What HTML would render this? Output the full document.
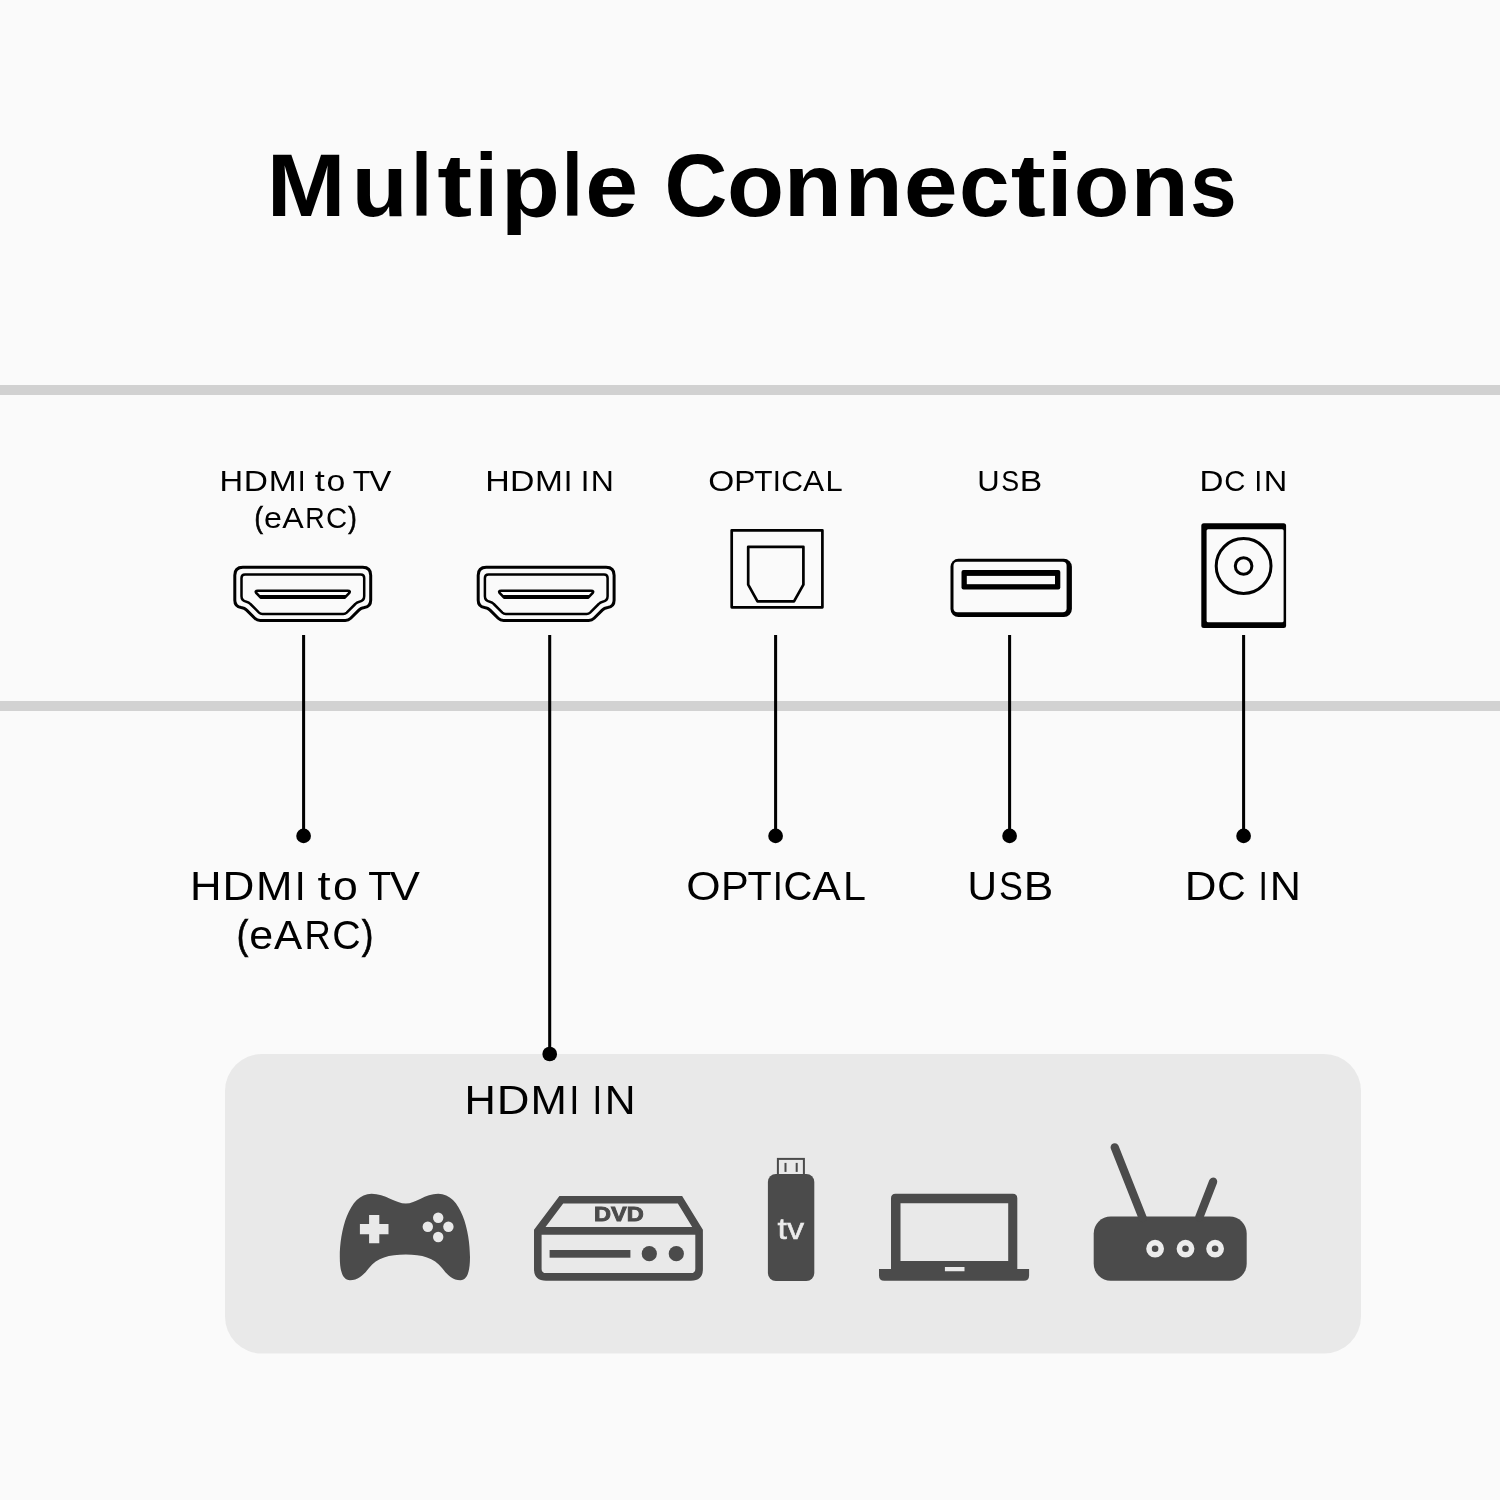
<!DOCTYPE html>
<html><head><meta charset="utf-8">
<style>
html,body{margin:0;padding:0;background:#fafafa;}
body{width:1500px;height:1500px;overflow:hidden;font-family:"Liberation Sans",sans-serif;}
svg{display:block;position:absolute;left:0;top:0;will-change:transform;}
text{font-family:"Liberation Sans",sans-serif;fill:#000;}
</style></head>
<body>
<svg width="1500" height="1500" viewBox="0 0 1500 1500">
<rect x="0" y="0" width="1500" height="1500" fill="#fafafa"/>
<!-- horizontal bars -->
<rect x="0" y="385" width="1500" height="10" fill="#d1d1d1"/>
<rect x="0" y="701" width="1500" height="10" fill="#d2d2d2"/>
<!-- panel -->
<rect x="225" y="1054" width="1136" height="299.500" rx="37" ry="37" fill="#e9e9e9"/>

<!-- title -->
<g font-size="88.6" font-weight="bold">
<text transform="translate(266.79,216) scale(1.0678,1)">M</text>
<text transform="translate(351.72,216) scale(1.0316,1)">u</text>
<text transform="translate(411.48,216) scale(0.8163,1)">l</text>
<text transform="translate(437.30,216) scale(1.1833,1)">t</text>
<text transform="translate(474.92,216) scale(0.9174,1)">i</text>
<text transform="translate(500.64,216) scale(1.0945,1)">p</text>
<text transform="translate(562.06,216) scale(0.8379,1)">l</text>
<text transform="translate(585.33,216) scale(1.0722,1)">e</text>
<text transform="translate(664.48,216) scale(0.9827,1)">C</text>
<text transform="translate(727.08,216) scale(1.0546,1)">o</text>
<text transform="translate(783.85,216) scale(1.0745,1)">n</text>
<text transform="translate(844.44,216) scale(1.0767,1)">n</text>
<text transform="translate(903.77,216) scale(1.0948,1)">e</text>
<text transform="translate(958.96,216) scale(1.0271,1)">c</text>
<text transform="translate(1010.70,216) scale(1.1936,1)">t</text>
<text transform="translate(1047.08,216) scale(1.0330,1)">i</text>
<text transform="translate(1073.75,216) scale(1.0278,1)">o</text>
<text transform="translate(1130.44,216) scale(1.0767,1)">n</text>
<text transform="translate(1190.07,216) scale(0.9484,1)">s</text>
</g>
<!-- labels (per-glyph) -->
<g font-size="29.5">
<text transform="translate(219.44,490.7) scale(1.1089,1)">H</text>
<text transform="translate(243.68,490.7) scale(1.1348,1)">D</text>
<text transform="translate(268.69,490.7) scale(1.1341,1)">M</text>
<text transform="translate(297.79,490.7) scale(0.9608,1)">I</text>
<text transform="translate(314.70,490.7) scale(1.2294,1)">t</text>
<text transform="translate(326.54,490.7) scale(1.1477,1)">o</text>
<text transform="translate(352.85,490.7) scale(0.9792,1)">T</text>
<text transform="translate(369.30,490.7) scale(1.1251,1)">V</text>
</g>
<g font-size="29.5">
<text transform="translate(254.44,527.6) scale(0.8600,1)" stroke="#000" stroke-width="0.7">(</text>
<text transform="translate(263.99,527.6) scale(1.0917,1)">e</text>
<text transform="translate(282.20,527.6) scale(1.0898,1)">A</text>
<text transform="translate(305.30,527.6) scale(0.9123,1)">R</text>
<text transform="translate(326.02,527.6) scale(0.9948,1)">C</text>
<text transform="translate(348.13,527.6) scale(0.8600,1)" stroke="#000" stroke-width="0.7">)</text>
</g>
<g font-size="29.5">
<text transform="translate(485.35,490.7) scale(1.1510,1)">H</text>
<text transform="translate(510.06,490.7) scale(1.1459,1)">D</text>
<text transform="translate(535.09,490.7) scale(1.1341,1)">M</text>
<text transform="translate(563.87,490.7) scale(1.0538,1)">I</text>
<text transform="translate(580.87,490.7) scale(1.0538,1)">I</text>
<text transform="translate(590.80,490.7) scale(1.0847,1)">N</text>
</g>
<g font-size="29.5">
<text transform="translate(708.13,490.7) scale(1.1341,1)">O</text>
<text transform="translate(734.23,490.7) scale(1.0723,1)">P</text>
<text transform="translate(754.23,490.7) scale(1.0144,1)">T</text>
<text transform="translate(772.81,490.7) scale(0.9918,1)">I</text>
<text transform="translate(781.29,490.7) scale(1.0212,1)">C</text>
<text transform="translate(803.10,490.7) scale(1.0747,1)">A</text>
<text transform="translate(825.59,490.7) scale(1.0473,1)">L</text>
</g>
<g font-size="29.5">
<text transform="translate(977.36,490.7) scale(1.0505,1)">U</text>
<text transform="translate(1001.26,490.7) scale(0.9078,1)">S</text>
<text transform="translate(1019.67,490.7) scale(1.1405,1)">B</text>
</g>
<g font-size="29.5">
<text transform="translate(1199.51,490.7) scale(1.1237,1)">D</text>
<text transform="translate(1224.22,490.7) scale(0.9948,1)">C</text>
<text transform="translate(1254.56,490.7) scale(0.9298,1)">I</text>
<text transform="translate(1263.76,490.7) scale(1.1028,1)">N</text>
</g>
<g font-size="40.4">
<text transform="translate(190.08,899.8) scale(1.0825,1)">H</text>
<text transform="translate(222.45,899.8) scale(1.0927,1)">D</text>
<text transform="translate(255.98,899.8) scale(1.0837,1)">M</text>
<text transform="translate(294.83,899.8) scale(0.9731,1)">I</text>
<text transform="translate(317.50,899.8) scale(1.1705,1)">t</text>
<text transform="translate(332.91,899.8) scale(1.1038,1)">o</text>
<text transform="translate(368.31,899.8) scale(0.9291,1)">T</text>
<text transform="translate(389.70,899.8) scale(1.1200,1)">V</text>
</g>
<g font-size="40.4">
<text transform="translate(236.74,948.8) scale(0.8600,1)" stroke="#000" stroke-width="0.7">(</text>
<text transform="translate(249.26,948.8) scale(1.0629,1)">e</text>
<text transform="translate(273.90,948.8) scale(1.0463,1)">A</text>
<text transform="translate(304.45,948.8) scale(0.9018,1)">R</text>
<text transform="translate(332.16,948.8) scale(0.9737,1)">C</text>
<text transform="translate(361.86,948.8) scale(0.8600,1)" stroke="#000" stroke-width="0.7">)</text>
</g>
<g font-size="40.4">
<text transform="translate(686.23,899.8) scale(1.0945,1)">O</text>
<text transform="translate(721.06,899.8) scale(1.0274,1)">P</text>
<text transform="translate(747.48,899.8) scale(0.9805,1)">T</text>
<text transform="translate(772.84,899.8) scale(0.9052,1)">I</text>
<text transform="translate(783.53,899.8) scale(0.9891,1)">C</text>
<text transform="translate(812.30,899.8) scale(1.0573,1)">A</text>
<text transform="translate(843.08,899.8) scale(1.0215,1)">L</text>
</g>
<g font-size="40.4">
<text transform="translate(967.45,899.8) scale(1.0089,1)">U</text>
<text transform="translate(998.98,899.8) scale(0.8880,1)">S</text>
<text transform="translate(1023.74,899.8) scale(1.0953,1)">B</text>
</g>
<g font-size="40.4">
<text transform="translate(1184.66,899.8) scale(1.0886,1)">D</text>
<text transform="translate(1217.26,899.8) scale(0.9737,1)">C</text>
<text transform="translate(1258.46,899.8) scale(0.8373,1)">I</text>
<text transform="translate(1269.83,899.8) scale(1.0693,1)">N</text>
</g>
<g font-size="40.4">
<text transform="translate(464.61,1113.7) scale(1.0737,1)">H</text>
<text transform="translate(496.86,1113.7) scale(1.1211,1)">D</text>
<text transform="translate(530.59,1113.7) scale(1.0801,1)">M</text>
<text transform="translate(569.14,1113.7) scale(0.9052,1)">I</text>
<text transform="translate(592.59,1113.7) scale(0.8600,1)">I</text>
<text transform="translate(604.67,1113.7) scale(1.0561,1)">N</text>
</g>

<!-- connector lines -->
<g stroke="#000" stroke-width="3.050" fill="none">
<line x1="303.600" y1="635" x2="303.600" y2="836"/>
<line x1="549.700" y1="635" x2="549.700" y2="1054"/>
<line x1="775.600" y1="635" x2="775.600" y2="836"/>
<line x1="1009.600" y1="635" x2="1009.600" y2="836"/>
<line x1="1243.600" y1="635" x2="1243.600" y2="836"/>
</g>
<g fill="#000">
<circle cx="303.600" cy="835.900" r="7.350"/>
<circle cx="549.700" cy="1054" r="7.350"/>
<circle cx="775.600" cy="835.900" r="7.350"/>
<circle cx="1009.600" cy="835.900" r="7.350"/>
<circle cx="1243.600" cy="835.900" r="7.350"/>
</g>

<!-- HDMI port icon -->
<defs>
<g id="hdmi" fill="none" stroke="#000" stroke-linejoin="round" stroke-linecap="round">
  <path d="M9.5 1.5 H129.400 Q137.400 1.5 137.400 9.500 V34.600 Q137.400 40.800 131 41.900 Q127.500 42.400 125.800 44.200 L117.400 52.600 Q115.200 54.800 112 54.800 H26.900 Q23.700 54.800 21.500 52.600 L13.100 44.200 Q11.400 42.400 7.900 41.900 Q1.500 40.800 1.500 34.600 V9.500 Q1.500 1.500 9.500 1.500 Z" stroke-width="3"/>
  <path d="M11.700 8.700 H127.400 Q130.900 8.700 130.900 12.200 V30.500 Q130.900 35 126 36 Q123.500 36.500 122 38.300 L113.400 46.900 Q112 48.200 110 48.200 H29.100 Q27.100 48.200 25.700 46.900 L17.100 38.300 Q15.600 36.500 13.100 36 Q8.200 35 8.200 30.500 V12.200 Q8.200 8.700 11.700 8.700 Z" stroke-width="2.500"/>
  <path d="M24.500 25 H114.400 Q117.600 25 115.800 27.500 L111.500 32 H27.400 L23.100 27.500 Q21.300 25 24.500 25 Z" stroke-width="2.600"/>
  <path d="M25 29.300 L28 33.250 H110.900 L113.900 29.300 Z" fill="#000" stroke="none"/>
</g>
</defs>
<use href="#hdmi" x="233.300" y="565.700"/>
<use href="#hdmi" x="476.700" y="565.700"/>

<!-- Optical -->
<g fill="none" stroke="#000" stroke-width="2.700" stroke-linejoin="round">
<rect x="731.700" y="530.300" width="90.700" height="77"/>
<path d="M748.200 546.800 H803.400 V584.700 L794 601.400 H757.500 L748.200 584.700 Z"/>
</g>

<!-- USB -->
<g>
<rect x="950.500" y="558.800" width="121.400" height="58.200" rx="8" fill="#000"/>
<rect x="953.500" y="561.800" width="113.100" height="50.400" rx="4" fill="#fafafa"/>
<rect x="961.500" y="570" width="98.800" height="19.500" rx="2" fill="#000"/>
<rect x="966.800" y="575.900" width="88.200" height="8.300" fill="#fafafa"/>
</g>

<!-- DC IN -->
<g>
<rect x="1201.300" y="523.300" width="84.800" height="104.600" rx="2.500" fill="#000"/>
<rect x="1206.600" y="529.200" width="77" height="93.100" rx="1.500" fill="#fafafa"/>
<circle cx="1243.600" cy="566" r="27.400" fill="none" stroke="#000" stroke-width="3"/>
<circle cx="1243.600" cy="566" r="8.300" fill="none" stroke="#000" stroke-width="3"/>
</g>

<!-- gamepad -->
<g>
<path fill="#4b4b4b" d="M371.600 1193.800 C385 1193.800 396 1203.600 405.800 1203.600 C415.600 1203.600 425 1193.800 438.200 1193.800 C461.500 1193.800 470 1232 470 1257 C470 1272 467 1280.200 460.500 1280.200 C452 1280.200 447.500 1275 442 1268 C434 1258 422 1254.600 405.800 1254.600 C389 1254.600 377 1258 369 1268 C363.500 1275 358.500 1280.200 350 1280.200 C343 1280.200 339.800 1272 339.800 1257 C339.800 1232 348.300 1193.800 371.600 1193.800 Z"/>
<path fill="#e9e9e9" d="M369.100 1215 h10.200 v9 h9.200 v10.200 h-9.200 v9 h-10.200 v-9 h-9.200 v-10.200 h9.200 Z"/>
<circle cx="438.200" cy="1217.800" r="5.200" fill="#e9e9e9"/>
<circle cx="427.800" cy="1226.800" r="5.200" fill="#e9e9e9"/>
<circle cx="448.400" cy="1226.800" r="5.200" fill="#e9e9e9"/>
<circle cx="438.200" cy="1237" r="5.200" fill="#e9e9e9"/>
</g>

<!-- DVD -->
<g>
<path fill="none" stroke="#4b4b4b" stroke-width="7.600" stroke-linejoin="miter" d="M561.300 1199.800 H680 L699.100 1230.900 V1269 Q699.100 1276.900 691 1276.900 H546 Q537.800 1276.900 537.800 1269 V1230.900 Z"/>
<line x1="537.800" y1="1230.900" x2="699.100" y2="1230.900" stroke="#4b4b4b" stroke-width="7.600"/>
<rect x="549.600" y="1250" width="80.800" height="7.700" fill="#4b4b4b"/>
<circle cx="649.300" cy="1253.700" r="7.600" fill="#4b4b4b"/>
<circle cx="676.300" cy="1253.700" r="7.600" fill="#4b4b4b"/>
<text x="594" y="1221.300" font-size="20.600" font-weight="bold" style="fill:#4b4b4b;stroke:#4b4b4b;stroke-width:0.9px" textLength="49.700" lengthAdjust="spacingAndGlyphs">DVD</text>
</g>

<!-- TV stick -->
<g>
<rect x="777.900" y="1158.900" width="26" height="18" fill="#e9e9e9" stroke="#4b4b4b" stroke-width="2"/>
<rect x="784.500" y="1162.900" width="2" height="9" fill="#4b4b4b"/>
<rect x="795.700" y="1162.900" width="2" height="9" fill="#4b4b4b"/>
<rect x="767.900" y="1173.900" width="46.400" height="107.100" rx="8" fill="#4b4b4b"/>
<text x="777.500" y="1238.700" font-size="29.500" style="fill:#ececec;stroke:#ececec;stroke-width:0.5px" textLength="26.600" lengthAdjust="spacingAndGlyphs">tv</text>
</g>

<!-- laptop -->
<g>
<path fill="#4b4b4b" fill-rule="evenodd" d="M895.500 1193.800 H1012.800 Q1017.300 1193.800 1017.300 1198.300 V1269 H1029.100 V1275.500 Q1029.100 1280.800 1023.800 1280.800 H884.300 Q879 1280.800 879 1275.500 V1269 H891 V1198.300 Q891 1193.800 895.500 1193.800 Z M900.500 1203.200 V1260.900 H1008.200 V1203.200 Z M944.900 1266.900 V1271.300 H964.500 V1266.900 Z"/>
</g>

<!-- router -->
<g>
<rect x="1093.700" y="1216.400" width="153" height="64.300" rx="17" fill="#4b4b4b"/>
<line x1="1114.700" y1="1147.300" x2="1142.700" y2="1218" stroke="#4b4b4b" stroke-width="8.300" stroke-linecap="round"/>
<line x1="1213.100" y1="1181.700" x2="1199.300" y2="1217.300" stroke="#4b4b4b" stroke-width="8.300" stroke-linecap="round"/>
<circle cx="1155.100" cy="1248.700" r="6.100" fill="#4b4b4b" stroke="#ececec" stroke-width="5.600"/>
<circle cx="1185.500" cy="1248.700" r="6.100" fill="#4b4b4b" stroke="#ececec" stroke-width="5.600"/>
<circle cx="1215.100" cy="1248.700" r="6.100" fill="#4b4b4b" stroke="#ececec" stroke-width="5.600"/>
</g>
</svg>
</body></html>
